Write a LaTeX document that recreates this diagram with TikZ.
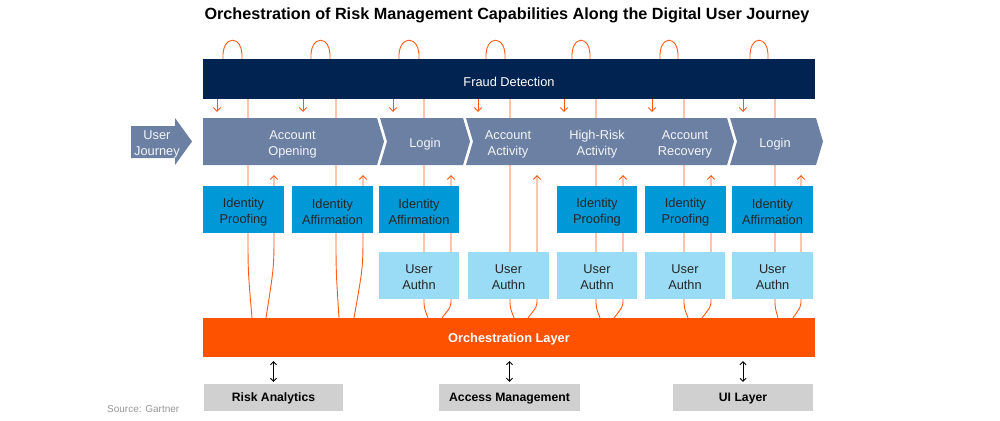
\documentclass[tikz,border=0pt]{standalone}
\usepackage{fontspec}
\setmainfont{Liberation Sans}
\usetikzlibrary{arrows.meta}
\definecolor{navy}{RGB}{0,35,82}
\definecolor{slate}{RGB}{108,128,163}
\definecolor{idblue}{RGB}{0,152,214}
\definecolor{lblue}{RGB}{154,220,245}
\definecolor{orchc}{RGB}{255,82,0}
\definecolor{lgrey}{RGB}{208,208,208}
\definecolor{oline}{RGB}{255,90,20}
\definecolor{srcgrey}{RGB}{150,150,150}
\newcommand{\boxfont}{\fontsize{12.8}{16}\selectfont}
\begin{document}
\begin{tikzpicture}[x=1pt,y=-1pt,
  ol/.style={draw=oline, line width=0.9pt},
  oarr/.style={ol, -{Straight Barb[length=3.8pt,width=7.5pt]}},
  cbox/.style={rectangle, inner sep=0pt, minimum width=80pt, minimum height=47pt},
  ctext/.style={align=center, font=\boxfont, text=black!85, inner sep=0pt},
  idbox/.style={cbox, fill=idblue},
  uabox/.style={cbox, fill=lblue},
  bar/.style={rectangle, inner sep=0pt, minimum width=612pt},
  bartext/.style={font=\boxfont, text=white, inner sep=0pt},
  jtext/.style={align=center, font=\boxfont, text=white!92!slate},
  btm/.style={rectangle, inner sep=0pt, fill=lgrey, minimum width=140pt, minimum height=27pt},
  btmtext/.style={font=\fontsize{12.2}{14}\selectfont\bfseries, inner sep=0pt},
  darr/.style={draw=black, line width=0.8pt, {Straight Barb[length=3pt,width=6pt]}-{Straight Barb[length=3pt,width=6pt]}, shorten <=4pt, shorten >=2pt}
]
\useasboundingbox (0,0) rectangle (1000,420);

% title
\node[font=\fontsize{16.2}{18}\selectfont\bfseries] (title) at (507,15) {Orchestration of Risk Management Capabilities Along the Digital User Journey};

% bars (geometry)
\node[bar, minimum height=40pt] (fd) at (509,79) {};
\node[bar, minimum height=39pt] (orch) at (509,337.5) {};

% ---------- orange connectors (behind) ----------
\foreach \aa/\ab/\dd/\LL/\Lb/\RR/\Rb/\yb in {
  223/242/217/248/252/274/266/233,
  311/330/303/336/339/363/354/233,
  399/419/393/424/428/451/442/299,
  486/505/478/510/514/537/528/299,
  572/590/564/596/600/623/614/299,
  660/678/652/684/688/711/702/299,
  750/768/743/775/778/801/793/299}{
  \draw[ol] (fd.north -| \aa,0) .. controls (\aa-1.5,34) and (\ab+1.5,34) .. (fd.north -| \ab,0);
  \draw[oarr] (fd.south -| \dd,0) -- (\dd,112);
  \draw[ol] (orch.north -| \Lb,0) .. controls (\LL,{\yb+0.45*(318-\yb)}) .. (\LL,\yb) -- (fd.south -| \LL,0);
  \draw[oarr] (orch.north -| \Rb,0) .. controls (\RR,{\yb+0.4*(318-\yb)}) .. (\RR,\yb) -- (\RR,175);
}

% ---------- bars ----------
\fill[navy] (fd.north west) rectangle (fd.south east);
\fill[orchc] (orch.north west) rectangle (orch.south east);
\node[bartext] (fdt) at ([yshift=-2.5pt]fd.center) {Fraud Detection};
\node[bartext, font=\boxfont\bfseries] (orcht) at ([yshift=-1.5pt]orch.center) {Orchestration Layer};

% ---------- journey band ----------
\fill[slate] (131,126) -- (175,126) -- (175,118) -- (192,141.5) -- (175,165) -- (175,158) -- (131,158) -- cycle;
\fill[slate] (203,118) -- (377,118) -- (384,141.5) -- (377,165) -- (203,165) -- cycle;
\fill[slate] (380,118) -- (463,118) -- (470,141.5) -- (463,165) -- (380,165) -- (387,141.5) -- cycle;
\fill[slate] (466,118) -- (727,118) -- (734,141.5) -- (727,165) -- (466,165) -- (473,141.5) -- cycle;
\fill[slate] (730,118) -- (816,118) -- (823,141.5) -- (816,165) -- (730,165) -- (737,141.5) -- cycle;

\node[jtext] (uj) at (157,144) {User\\Journey};
\node[jtext] (j1) at (292.5,144) {Account\\Opening};
\node[jtext] (j2) at (425,144) {Login};
\node[jtext] (j3) at (508,144) {Account\\Activity};
\node[jtext] (j4) at (597,144) {High-Risk\\Activity};
\node[jtext] (j5) at (685,144) {Account\\Recovery};
\node[jtext] (j6) at (775,144) {Login};

% ---------- capability boxes ----------
\node[idbox, minimum width=81pt] (idp1) at (243.5,209.5) {};
\node[idbox, minimum width=81pt] (ida1) at (332.5,209.5) {};
\node[idbox] (ida2) at (419,209.5) {};
\node[idbox] (idp2) at (597,209.5) {};
\node[idbox, minimum width=81pt] (idp3) at (685.5,209.5) {};
\node[idbox, minimum width=81pt] (ida3) at (772.5,209.5) {};
\foreach \b/\t in {idp1/Identity\\Proofing, ida1/Identity\\Affirmation, ida2/Identity\\Affirmation,
                   idp2/Identity\\Proofing, idp3/Identity\\Proofing, ida3/Identity\\Affirmation}{
  \node[ctext] (\b t) at ([yshift=-2.5pt]\b.center) {\t};
}

\node[uabox] (ua1) at (419,275.5) {};
\node[uabox, minimum width=81pt] (ua2) at (508.5,275.5) {};
\node[uabox] (ua3) at (597,275.5) {};
\node[uabox] (ua4) at (685,275.5) {};
\node[uabox, minimum width=81pt] (ua5) at (772.5,275.5) {};
\foreach \b in {ua1,ua2,ua3,ua4,ua5}{
  \node[ctext] (\b t) at ([yshift=-1.5pt]\b.center) {User\\Authn};
}

% ---------- bottom systems ----------
\node[btm, minimum width=139pt] (ra) at (273.5,397.5) {};
\node[btm, minimum width=141pt] (am) at (509.5,397.5) {};
\node[btm] (ui) at (743,397.5) {};
\node[btmtext] (rat) at ([yshift=-1pt]ra.center) {Risk Analytics};
\node[btmtext] (amt) at ([yshift=-1pt]am.center) {Access Management};
\node[btmtext] (uit) at ([yshift=-1pt]ui.center) {UI Layer};

\draw[darr] (orch.south -| ra.north) -- (ra.north);
\draw[darr] (orch.south -| am.north) -- (am.north);
\draw[darr] (orch.south -| ui.north) -- (ui.north);

\node[font=\fontsize{10}{12}\selectfont, text=srcgrey, anchor=west, inner sep=0pt] (src) at (107,409) {Source: Gartner};
\end{tikzpicture}
\end{document}
